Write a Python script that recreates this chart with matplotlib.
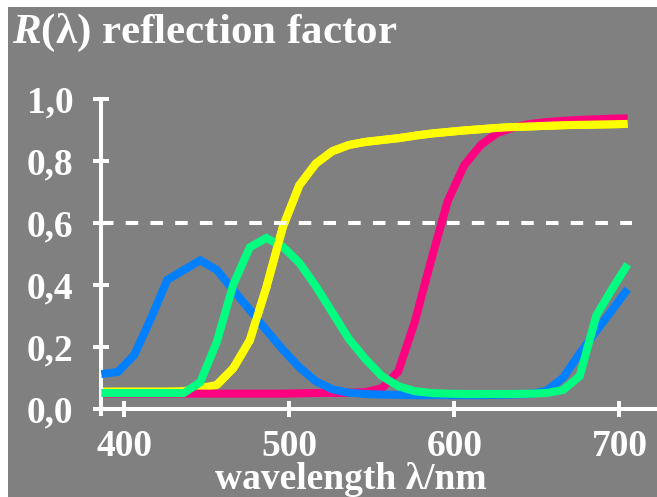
import matplotlib
matplotlib.use("Agg")
import matplotlib.pyplot as plt
from matplotlib.patches import Rectangle
from matplotlib.ticker import FixedLocator, FuncFormatter

plt.rcParams['lines.scale_dashes'] = False
plt.rcParams['mathtext.fontset'] = 'custom'
plt.rcParams['mathtext.rm'] = 'Liberation Serif:bold'
plt.rcParams['mathtext.it'] = 'Liberation Serif:italic:bold'
plt.rcParams['mathtext.bf'] = 'Liberation Serif:bold'

# ---- data ----
wavelength = [386, 396, 406, 416, 426, 436, 446, 456, 466, 476, 486, 496, 506,
              516, 526, 536, 546, 556, 566, 576, 586, 596, 606, 616, 626, 636,
              646, 656, 666, 676, 686, 696, 705]

blue = [0.111, 0.118, 0.173, 0.29, 0.415, 0.447, 0.478, 0.447, 0.382, 0.318,
        0.253, 0.19, 0.133, 0.088, 0.062, 0.051, 0.047, 0.045, 0.044, 0.043,
        0.043, 0.043, 0.043, 0.043, 0.044, 0.045, 0.047, 0.058, 0.10, 0.178,
        0.25, 0.321, 0.385]

green = [0.05, 0.05, 0.05, 0.05, 0.05, 0.05, 0.085, 0.215, 0.40, 0.52, 0.55,
         0.522, 0.47, 0.395, 0.31, 0.225, 0.16, 0.105, 0.072, 0.056, 0.05,
         0.048, 0.047, 0.047, 0.047, 0.047, 0.048, 0.05, 0.06, 0.105, 0.30,
         0.389, 0.465]

yellow = [0.055, 0.055, 0.055, 0.055, 0.055, 0.056, 0.066, 0.076, 0.13, 0.22,
          0.39, 0.585, 0.72, 0.79, 0.83, 0.85, 0.86, 0.866, 0.872, 0.88, 0.887,
          0.892, 0.897, 0.901, 0.905, 0.908, 0.91, 0.912, 0.914, 0.915, 0.916,
          0.917, 0.918]

magenta = [0.048, 0.048, 0.048, 0.048, 0.048, 0.048, 0.048, 0.048, 0.048,
           0.048, 0.048, 0.048, 0.049, 0.05, 0.05, 0.051, 0.053, 0.065, 0.12,
           0.28, 0.48, 0.67, 0.785, 0.85, 0.889, 0.907, 0.918, 0.924, 0.928,
           0.931, 0.933, 0.935, 0.936]

reference_level = 0.6
x_ticks = [400, 500, 600, 700]
y_ticks = [0.0, 0.2, 0.4, 0.6, 0.8, 1.0]

title_text = r"$\mathit{R}$(λ) reflection factor"
xlabel_text = "wavelength λ/nm"

# ---- figure ----
W, H = 657, 497
fig = plt.figure(figsize=(W / 100, H / 100), dpi=100, facecolor='white')
gray = '#808080'
fig.patches.append(Rectangle((8 / W, 0), 1 - 8 / W, 1 - 7 / H,
                             transform=fig.transFigure, facecolor=gray,
                             edgecolor='none', zorder=-10))

ax_left = 101.3 / W
ax_bottom = (H - 413.5) / H
ax_top = (H - 98.5) / H
ax = fig.add_axes([ax_left, ax_bottom, 1 - ax_left, ax_top - ax_bottom])
ax.set_zorder(1)
ax.set_facecolor('none')
ax.patch.set_alpha(0)
ax.set_xlim(386, 722.8)
ax.set_ylim(-0.016, 1.0)

lw = 5.8
ax.plot(wavelength, magenta, color='#FF0080', lw=lw, solid_capstyle='butt',
        solid_joinstyle='miter', zorder=2)
ax.plot(wavelength, yellow, color='#FFFF00', lw=lw, solid_capstyle='butt',
        solid_joinstyle='miter', zorder=1.5)
ax.plot(wavelength, blue, color='#0080FF', lw=lw, solid_capstyle='butt',
        solid_joinstyle='miter', zorder=3)
ax.plot(wavelength, green, color='#00FF80', lw=lw, solid_capstyle='butt',
        solid_joinstyle='miter', zorder=4)
# yellow passes over the green peak
ax.plot(wavelength[7:], yellow[7:], color='#FFFF00', lw=lw,
        solid_capstyle='butt', solid_joinstyle='miter', zorder=5)

ref_end = (707.7 - 386) / (722.8 - 386)
ax.axhline(reference_level, xmin=0, xmax=ref_end, color='white', lw=2.9,
           linestyle=(0, (9.0, 8.8)), dash_capstyle='butt', zorder=6)

for s in ['top', 'right']:
    ax.spines[s].set_visible(False)
for s in ['left', 'bottom']:
    ax.spines[s].set_color('white')
    ax.spines[s].set_linewidth(2.9)
ax.spines['bottom'].set_position(('data', 0))

ax.xaxis.set_major_locator(FixedLocator(x_ticks))
ax.yaxis.set_major_locator(FixedLocator(y_ticks))
ax.yaxis.set_major_formatter(FuncFormatter(lambda v, p: f"{v:.1f}".replace('.', ',')))
ax.xaxis.set_major_formatter(FuncFormatter(lambda v, p: f"{v:.0f}"))

ax.tick_params(axis='both', direction='inout', length=12, width=2.9,
               color='white', labelcolor='white')
ax.tick_params(axis='y', pad=14)
ax.tick_params(axis='x', pad=9)
for lab in ax.get_xticklabels() + ax.get_yticklabels():
    lab.set_fontfamily('Liberation Serif')
    lab.set_fontweight('bold')
    lab.set_fontsize(27)

fig.text(12 / W, (H - 43.3) / H, title_text, color='white', ha='left',
         va='baseline', fontfamily='Liberation Serif', fontweight='bold',
         fontsize=31)
fig.text(350.4 / W, (H - 489) / H, xlabel_text, color='white', ha='center',
         va='baseline', fontfamily='Liberation Serif', fontweight='bold',
         fontsize=27)

fig.savefig('out.png', dpi=100, facecolor=fig.get_facecolor())
